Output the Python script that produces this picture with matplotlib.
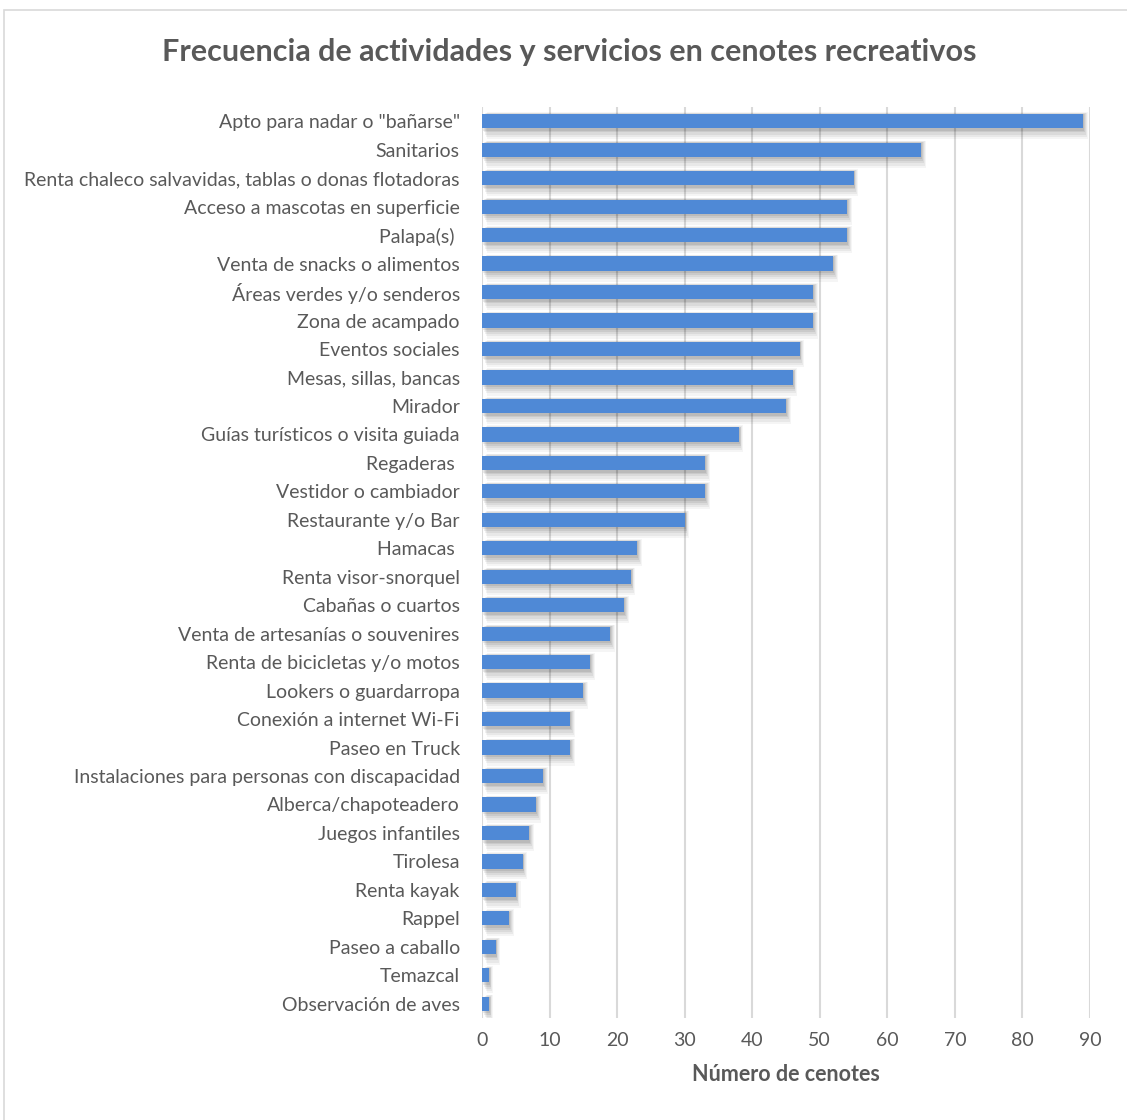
import matplotlib.pyplot as plt
from matplotlib.patches import Rectangle

# Datos (de arriba hacia abajo)
categorias = [
    'Apto para nadar o "bañarse"',
    "Sanitarios",
    "Renta chaleco salvavidas, tablas o donas flotadoras",
    "Acceso a mascotas en superficie",
    "Palapa(s) ",
    "Venta de snacks o alimentos",
    "Áreas verdes y/o senderos",
    "Zona de acampado",
    "Eventos sociales",
    "Mesas, sillas, bancas",
    "Mirador",
    "Guías turísticos o visita guiada",
    "Regaderas ",
    "Vestidor o cambiador",
    "Restaurante y/o Bar",
    "Hamacas ",
    "Renta visor-snorquel",
    "Cabañas o cuartos",
    "Venta de artesanías o souvenires",
    "Renta de bicicletas y/o motos",
    "Lookers o guardarropa",
    "Conexión a internet Wi-Fi",
    "Paseo en Truck",
    "Instalaciones para personas con discapacidad",
    "Alberca/chapoteadero",
    "Juegos infantiles",
    "Tirolesa",
    "Renta kayak",
    "Rappel",
    "Paseo a caballo",
    "Temazcal",
    "Observación de aves",
]
num_cenotes = [89, 65, 55, 54, 54, 52, 49, 49, 47, 46, 45, 38, 33, 33, 30, 23,
               22, 21, 19, 16, 15, 13, 13, 9, 8, 7, 6, 5, 4, 2, 1, 1]
ticks_x = [0, 10, 20, 30, 40, 50, 60, 70, 80, 90]

TEXT_COLOR = "#595959"
BAR_COLOR = "#4F89D6"
GRID_COLOR = "#D9D9D9"
FONT = ["Lato", "DejaVu Sans"]

plt.rcParams["font.family"] = FONT

fig = plt.figure(figsize=(11.27, 11.2), dpi=100)
fig.patches.append(Rectangle((4 / 1127, -0.05), 1.2, 1.05 - 10 / 1120,
                             transform=fig.transFigure, fill=False,
                             edgecolor="#D9D9D9", linewidth=1.2))

ax = fig.add_axes([482 / 1127, 1 - 1018 / 1120, 608 / 1127, 911 / 1120])

pos = list(range(len(categorias)))

# sombra difusa estilo Excel
capas = [(0.7, 0.16, 0.95, 0.04), (0.55, 0.13, 0.85, 0.05), (0.4, 0.10, 0.75, 0.06),
         (0.28, 0.07, 0.65, 0.07), (0.16, 0.05, 0.58, 0.08)]
for dx, dy, h, a in capas:
    ax.barh([p + dy for p in pos], num_cenotes, left=dx, height=h,
            color="black", alpha=a, linewidth=0, zorder=2)

ax.barh(pos, num_cenotes, height=0.5, color=BAR_COLOR, zorder=3)

ax.set_xlim(0, 90)
ax.set_ylim(len(categorias) - 0.5, -0.5)
ax.set_xticks(ticks_x)
ax.set_yticks(pos)
ax.set_yticklabels(categorias)
ax.tick_params(axis="both", length=0, colors=TEXT_COLOR)
ax.tick_params(axis="x", pad=10, labelsize=14)
ax.tick_params(axis="y", pad=16, labelsize=14)

ax.grid(axis="x", color=GRID_COLOR, linewidth=1.5, zorder=0)
ax.set_axisbelow(True)
for side in ax.spines:
    ax.spines[side].set_visible(False)

ax.set_xlabel("Número de cenotes", fontsize=15.5, fontweight="bold",
              color=TEXT_COLOR, labelpad=11)

fig.text(569 / 1127, 1 - 52 / 1120,
         "Frecuencia de actividades y servicios en cenotes recreativos",
         ha="center", va="center", fontsize=22, fontweight="bold",
         color=TEXT_COLOR)

fig.savefig("out.png", dpi=100)
